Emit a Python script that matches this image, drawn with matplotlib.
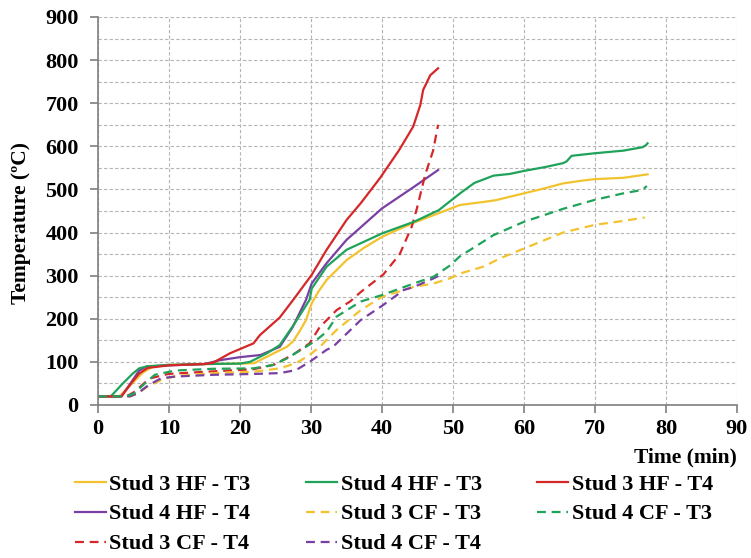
import numpy as np
import matplotlib
matplotlib.use("Agg")
import matplotlib.pyplot as plt
from matplotlib.ticker import MultipleLocator

# time (min) / temperature (C)
t_s3_hf_t3 = [0, 3, 4.5, 6.3, 7.7, 10, 15, 20, 22, 23.8, 25, 26.6, 27.5, 28.5, 29.3, 30.1, 31, 32.2, 35, 37.5, 40, 42, 44.5, 48, 51, 54.3, 56, 60, 63, 65.5, 68, 70, 74, 77.4]
T_s3_hf_t3 = [20, 20, 45, 75, 89, 93, 95, 96, 97, 112, 122, 135, 148, 174, 197, 236, 262, 290, 336, 365, 390, 405, 423, 445, 464, 471, 475, 491, 503, 514, 520, 524, 527, 535]

t_s4_hf_t3 = [0, 1.8, 3.5, 4.9, 5.8, 7, 10, 15, 20, 21.4, 23.8, 25.6, 27.4, 28.5, 29.8, 30.1, 32.2, 35, 40, 44.5, 48, 51, 53, 55.7, 58, 60, 63, 65.5, 66, 66.7, 70, 74, 76.7, 77.2, 77.4]
T_s4_hf_t3 = [20, 20, 50, 73, 85, 90, 93, 95, 96, 100, 120, 139, 182, 210, 244, 270, 321, 360, 398, 425, 452, 491, 515, 532, 536, 543, 552, 561, 565, 578, 584, 590, 598, 603, 607]

t_s3_hf_t4 = [0, 3.3, 4.9, 5.8, 7, 10, 15, 16.2, 18.6, 21.9, 22.8, 25.6, 27.5, 30.1, 32.2, 35, 37, 39.7, 42.4, 44.4, 45.4, 45.8, 46.8, 47.9]
T_s3_hf_t4 = [20, 20, 55, 73, 86, 92, 95, 98, 120, 143, 162, 203, 244, 302, 360, 429, 468, 526, 591, 646, 696, 731, 765, 781]

t_s4_hf_t4 = [0, 3.3, 4.9, 5.8, 6.8, 10, 15, 17.2, 20, 22.9, 25.6, 27.4, 29.3, 30.1, 32.2, 35, 40, 44.5, 47.9]
T_s4_hf_t4 = [20, 20, 58, 80, 89, 92, 95, 104, 111, 116, 135, 180, 244, 282, 329, 383, 456, 506, 545]

t_s3_cf_t3 = [0, 4.5, 5.6, 7.1, 8.9, 10.9, 16.2, 21.9, 25.6, 27.9, 29.8, 31.5, 32.2, 33.6, 37, 40, 44.5, 47.3, 49.6, 51, 54.3, 56.6, 60, 65.5, 70, 74, 77]
T_s3_cf_t3 = [20, 20, 27, 44, 58, 67, 74, 77, 85, 97, 116, 139, 151, 174, 220, 251, 274, 282, 294, 305, 321, 340, 363, 400, 418, 427, 435]

t_s4_cf_t3 = [0, 4, 5.1, 6.6, 8, 10.9, 16.2, 21.9, 24.7, 26.6, 29.3, 30.8, 32.2, 33.6, 37, 40, 44.5, 47.3, 49.7, 50.9, 55.7, 60, 65.5, 70, 74, 76.7, 77.3]
T_s4_cf_t3 = [20, 20, 27, 50, 70, 80, 84, 85, 93, 108, 135, 151, 170, 205, 240, 255, 282, 298, 325, 344, 394, 425, 455, 476, 491, 499, 508]

t_s3_cf_t4 = [0, 4, 5.1, 6.6, 7.4, 9.9, 15, 21.9, 24.7, 27.4, 29.8, 31.2, 33.6, 35.5, 37, 40.2, 42.5, 44.2, 44.9, 46.1, 47.2, 47.9]
T_s3_cf_t4 = [20, 20, 30, 52, 62, 72, 77, 83, 93, 116, 143, 180, 220, 240, 262, 303, 350, 414, 455, 535, 590, 650]

t_s4_cf_t4 = [0, 4.5, 5.6, 7.1, 8.9, 10.9, 16.2, 21.9, 25.6, 27.9, 29.8, 32.2, 33.1, 37, 40, 43.1, 44.5, 47.3, 48]
T_s4_cf_t4 = [20, 20, 27, 46, 62, 66, 70, 72, 74, 81, 100, 128, 135, 197, 230, 267, 274, 294, 300]

yellow = "#F3C22F"
green = "#1FA35A"
red = "#D62728"
purple = "#7A3FA3"

plt.rcParams["font.family"] = ["Liberation Serif", "DejaVu Serif"]
plt.rcParams["font.weight"] = "bold"

fig = plt.figure(figsize=(7.51, 5.58), dpi=100)
ax = fig.add_axes([98 / 751, 1 - 405 / 558, (737 - 98) / 751, (405 - 17) / 558])

lw = 1.6
dash = (4, 2.6)
# legend is filled column by column, so the order here gives the row layout of the reference
series = [
    ("Stud 3 HF - T3", t_s3_hf_t3, T_s3_hf_t3, yellow, "-"),
    ("Stud 4 HF - T4", t_s4_hf_t4, T_s4_hf_t4, purple, "-"),
    ("Stud 3 CF - T4", t_s3_cf_t4, T_s3_cf_t4, red, "--"),
    ("Stud 4 HF - T3", t_s4_hf_t3, T_s4_hf_t3, green, "-"),
    ("Stud 3 CF - T3", t_s3_cf_t3, T_s3_cf_t3, yellow, "--"),
    ("Stud 4 CF - T4", t_s4_cf_t4, T_s4_cf_t4, purple, "--"),
    ("Stud 3 HF - T4", t_s3_hf_t4, T_s3_hf_t4, red, "-"),
    ("Stud 4 CF - T3", t_s4_cf_t3, T_s4_cf_t3, green, "--"),
]
handles = []
for name, t, T, c, ls in series:
    line, = ax.plot(t, T, color=c, lw=lw, linestyle=ls, label=name)
    if ls == "--":
        line.set_dashes(dash)
    handles.append(line)

ax.set_xlim(0, 90)
ax.set_ylim(0, 900)
ax.xaxis.set_major_locator(MultipleLocator(10))
ax.yaxis.set_major_locator(MultipleLocator(100))
ax.yaxis.set_minor_locator(MultipleLocator(50))
ax.grid(True, which="major", color="#b5b5b5", linestyle=(0, (3, 2)), lw=0.8)
ax.grid(True, which="minor", axis="y", color="#b5b5b5", linestyle=(0, (3, 2)), lw=0.8)
ax.set_axisbelow(True)

for s in ["top", "right"]:
    ax.spines[s].set_visible(False)
for s in ["left", "bottom"]:
    ax.spines[s].set_color("#7f7f7f")
    ax.spines[s].set_linewidth(1.2)
ax.tick_params(axis="both", which="major", colors="#7f7f7f", length=6, width=1.2,
               labelsize=16, labelcolor="black", pad=4)
ax.tick_params(axis="y", which="major", pad=8)
ax.tick_params(axis="y", which="minor", length=0)
for lab in ax.get_xticklabels() + ax.get_yticklabels():
    lab.set_fontweight("bold")

ax.set_ylabel("Temperature (ºC)", fontsize=15.5, fontweight="bold")
ax.yaxis.set_label_coords(-(98 - 31) / 639, 0.468)
ax.set_xlabel("Time (min)", fontsize=15.5, fontweight="bold", loc="right")
ax.xaxis.set_label_coords(1.0, -(447 - 405) / 388)
ax.xaxis.label.set_va("top")

fig.legend(handles=handles, ncol=3, loc="upper left", bbox_to_anchor=(75 / 751, 1 - 474 / 558),
           frameon=False, prop={"weight": "bold", "size": 16},
           handlelength=1.4, handletextpad=0.15, columnspacing=2.5, labelspacing=0.42,
           borderaxespad=0, borderpad=0)

fig.savefig("out.png", dpi=100)
